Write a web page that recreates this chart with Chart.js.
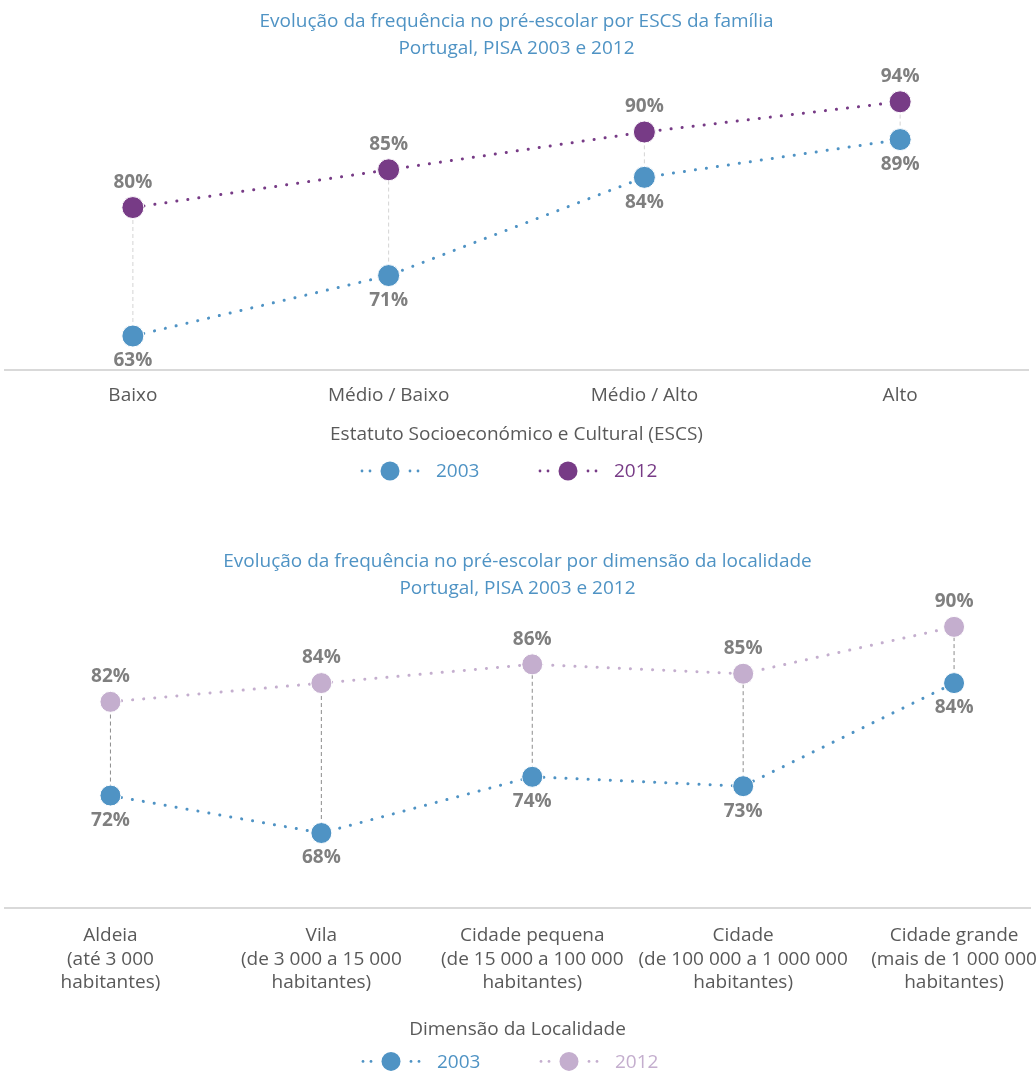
<!DOCTYPE html>
<html>
<head>
<meta charset="utf-8">
<script src="https://cdn.jsdelivr.net/npm/chart.js@4.4.1/dist/chart.umd.min.js"></script>
<style>
  html, body { margin: 0; padding: 0; background: #fff; overflow: hidden; }
  .box { position: absolute; left: 0; }
  #box1 { top: 0; width: 1036px; height: 500px; }
  #box2 { top: 540px; width: 1060px; height: 533px; }
</style>
</head>
<body>
<div class="box" id="box1"><canvas id="escsChart"></canvas></div>
<div class="box" id="box2"><canvas id="placeChart"></canvas></div>
<script>
const escsLevels = ['Baixo', 'Médio / Baixo', 'Médio / Alto', 'Alto'];
const escs2003 = [63, 71, 84, 89];
const escs2012 = [80, 85, 90, 94];

const places = [
  ['Aldeia', '(até 3 000', 'habitantes)'],
  ['Vila', '(de 3 000 a 15 000', 'habitantes)'],
  ['Cidade pequena', '(de 15 000 a 100 000', 'habitantes)'],
  ['Cidade', '(de 100 000 a 1 000 000', 'habitantes)'],
  ['Cidade grande', '(mais de 1 000 000', 'habitantes)']
];
const place2003 = [72, 68, 74, 73, 84];
const place2012 = [82, 84, 86, 85, 90];

const years = ['2003', '2012'];

const blue = '#4f93c4';
const purple = '#773b86';
const lilac = '#c4aece';
const grey = '#595959';
const FONT = "'Open Sans', sans-serif";

Chart.defaults.font.family = FONT;
Chart.defaults.animation = false;

// vertical dashed line between the two years
const dropLines = {
  id: 'dropLines',
  beforeDatasetsDraw(chart, args, opts) {
    const a = chart.getDatasetMeta(0).data;
    const b = chart.getDatasetMeta(1).data;
    const ctx = chart.ctx;
    ctx.save();
    ctx.strokeStyle = opts.color;
    ctx.lineWidth = 1;
    ctx.setLineDash([4, 3]);
    for (let i = 0; i < a.length; i++) {
      ctx.beginPath();
      ctx.moveTo(a[i].x, a[i].y);
      ctx.lineTo(b[i].x, b[i].y);
      ctx.stroke();
    }
    ctx.restore();
  }
};

// percentage labels, 2003 under the point, 2012 over it
const valueLabels = {
  id: 'valueLabels',
  afterDatasetsDraw(chart) {
    const ctx = chart.ctx;
    ctx.save();
    ctx.font = 'bold 19px ' + FONT;
    ctx.fillStyle = '#7f7f7f';
    ctx.textAlign = 'center';
    ctx.textBaseline = 'middle';
    chart.data.datasets.forEach((ds, d) => {
      const shift = d === 0 ? 25 : -25;
      chart.getDatasetMeta(d).data.forEach((pt, i) => {
        const v = ds.data[i];
        const val = typeof v === 'object' ? v.y : v;
        ctx.fillText(Math.round(val) + '%', pt.x, pt.y + shift);
      });
    });
    ctx.restore();
  }
};

// legend: dotted line with a big dot, then the year
const dotLegend = {
  id: 'dotLegend',
  afterDraw(chart, args, opts) {
    const ctx = chart.ctx;
    const y = chart.scales.x.bottom + opts.gap;
    const cx = (chart.chartArea.left + chart.chartArea.right) / 2;
    ctx.save();
    chart.data.datasets.forEach((ds, i) => {
      const sx = cx + opts.starts[i];
      ctx.fillStyle = ds.borderColor;
      [-28, -20, 20, 28].forEach(dx => {
        ctx.beginPath();
        ctx.arc(sx + dx, y, 1.4, 0, Math.PI * 2);
        ctx.fill();
      });
      ctx.beginPath();
      ctx.arc(sx, y, 9.5, 0, Math.PI * 2);
      ctx.fill();
      ctx.font = '19px ' + FONT;
      ctx.textBaseline = 'middle';
      ctx.textAlign = 'left';
      ctx.fillText(ds.label, sx + 46, y + 1);
    });
    ctx.restore();
  }
};

function lineSet(label, data, color, radius) {
  return {
    label,
    data,
    borderColor: color,
    backgroundColor: color,
    borderWidth: 3,
    borderDash: [0.1, 11],
    borderCapStyle: 'round',
    pointRadius: radius,
    pointHoverRadius: radius,
    pointBackgroundColor: color,
    pointBorderColor: '#ffffff',
    pointBorderWidth: 1,
    tension: 0,
    clip: false
  };
}

const titleFont = { size: 19, weight: 'normal', lineHeight: '27px' };

new Chart(document.getElementById('escsChart'), {
  type: 'line',
  data: {
    labels: escsLevels,
    datasets: [
      lineSet(years[0], escs2003, blue, 11),
      lineSet(years[1], escs2012, purple, 11)
    ]
  },
  options: {
    responsive: true,
    maintainAspectRatio: false,
    layout: { padding: { left: 5, right: 8, bottom: 53.6 }, autoPadding: false },
    plugins: {
      legend: { display: false },
      tooltip: { enabled: false },
      title: {
        display: true,
        text: ['Evolução da frequência no pré-escolar por ESCS da família', 'Portugal, PISA 2003 e 2012'],
        color: blue,
        font: titleFont,
        padding: { top: 8.5, bottom: 0 }
      },
      dropLines: { color: '#d4d4d4' },
      dotLegend: { gap: 24.6, starts: [-126.5, 51.5] }
    },
    scales: {
      x: {
        offset: true,
        grid: { display: false, drawTicks: false },
        border: { display: true, color: '#d9d9d9', width: 2 },
        ticks: { color: grey, padding: 14, font: { size: 19, lineHeight: 1.2 }, maxRotation: 0 },
        title: {
          display: true,
          text: 'Estatuto Socioeconómico e Cultural (ESCS)',
          color: grey,
          font: { size: 19, lineHeight: 1.2 },
          padding: { top: 2.8, bottom: 0 }
        }
      },
      y: { display: false, min: 58.5, max: 99.2 }
    }
  },
  plugins: [dropLines, valueLabels, dotLegend]
});

new Chart(document.getElementById('placeChart'), {
  type: 'line',
  data: {
    datasets: [
      lineSet(years[0], place2003.map((v, i) => ({ x: i, y: v })), blue, 10.5),
      lineSet(years[1], place2012.map((v, i) => ({ x: i, y: v })), lilac, 10.5)
    ]
  },
  options: {
    responsive: true,
    maintainAspectRatio: false,
    layout: { padding: { left: 5, right: 30, bottom: 31.6 }, autoPadding: false },
    plugins: {
      legend: { display: false },
      tooltip: { enabled: false },
      title: {
        display: true,
        text: ['Evolução da frequência no pré-escolar por dimensão da localidade', 'Portugal, PISA 2003 e 2012'],
        color: blue,
        font: titleFont,
        padding: { top: 8.5, bottom: 0 }
      },
      dropLines: { color: '#8c8c8c' },
      dotLegend: { gap: 20, starts: [-126.5, 51.5] }
    },
    scales: {
      x: {
        type: 'linear',
        min: -0.5,
        max: 4.36,
        grid: { display: false, drawTicks: false },
        border: { display: true, color: '#d9d9d9', width: 2 },
        ticks: {
          stepSize: 1,
          includeBounds: false,
          autoSkip: false,
          maxRotation: 0,
          color: grey,
          padding: 16,
          font: { size: 19, lineHeight: '23.5px' },
          callback: v => places[v] || ''
        },
        title: {
          display: true,
          text: 'Dimensão da Localidade',
          color: grey,
          font: { size: 19, lineHeight: 1.2 },
          padding: { top: 8.1, bottom: 0 }
        }
      },
      y: { display: false, min: 60, max: 92.6 }
    }
  },
  plugins: [dropLines, valueLabels, dotLegend]
});
</script>
</body>
</html>
